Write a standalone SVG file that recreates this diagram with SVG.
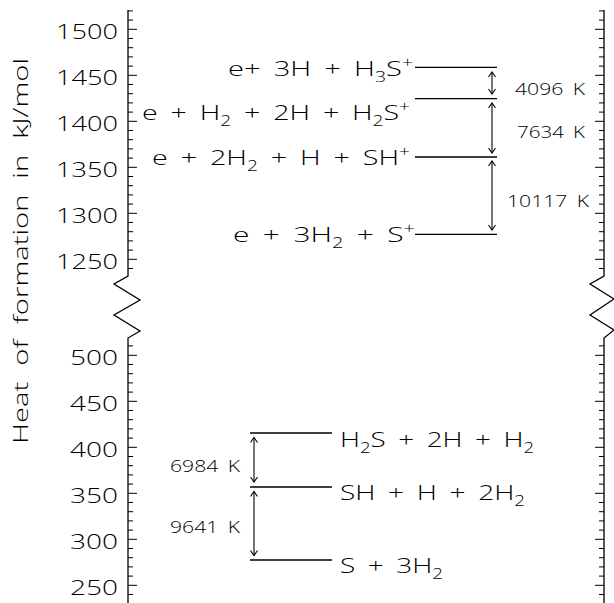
<svg xmlns="http://www.w3.org/2000/svg" width="614" height="603" viewBox="0 0 614 603">
<style>
text{font-family:"Open Sans","Liberation Sans",Arial,sans-serif;font-weight:300;fill:#000}
.tick{font-size:20px;text-anchor:end}
.lab{font-size:21px;word-spacing:4px}
.k{font-size:16.5px;text-anchor:middle;word-spacing:3px}
.ax{font-size:21px;text-anchor:middle;word-spacing:6px}
.sm{font-size:14px}
.ln{stroke:#000;stroke-width:1.3;fill:none}
.tk{stroke:#000;stroke-width:1;fill:none}
.arr{stroke:#000;stroke-width:1.1;fill:none;marker-start:url(#ah);marker-end:url(#ah)}
</style>
<defs>
<marker id="ah" markerUnits="userSpaceOnUse" markerWidth="12" markerHeight="12" viewBox="-6 -6 12 12" refX="0" refY="0" orient="auto-start-reverse">
<path d="M-5,-3.5 L0,0 L-5,3.5" stroke="#000" stroke-width="1.1" fill="none"/>
</marker>
</defs>
<g id="axes">
<path class="ln" d="M128,10 V276 L114,284 L140,300 L114,315 L140,331 L128,338 V603"/>
<path class="ln" d="M604,10 V276 L590,284 L614,299 L590,315 L614,330 L604,338 V603"/>
<path class="tk" d="M128,10.9h5M128,20.1h5M128,29.3h9M128,38.5h5M128,47.7h5M128,56.9h5M128,66.1h5M128,75.3h9M128,84.5h5M128,93.7h5M128,102.9h5M128,112.1h5M128,121.3h9M128,130.5h5M128,139.7h5M128,148.9h5M128,158.1h5M128,167.3h9M128,176.5h5M128,185.7h5M128,194.9h5M128,204.1h5M128,213.3h9M128,222.5h5M128,231.7h5M128,240.9h5M128,250.1h5M128,259.3h9M128,268.5h5"/>
<path class="tk" d="M128,345.9h5M128,355.3h9M128,364.5h5M128,373.7h5M128,382.9h5M128,392.1h5M128,401.3h9M128,410.5h5M128,419.7h5M128,428.9h5M128,438.1h5M128,447.3h9M128,456.5h5M128,465.7h5M128,474.9h5M128,484.1h5M128,493.3h9M128,502.5h5M128,511.7h5M128,520.9h5M128,530.1h5M128,539.3h9M128,548.5h5M128,557.7h5M128,566.9h5M128,576.1h5M128,585.3h9M128,594.5h5"/>
<path class="tk" d="M604,10.9h-5M604,20.1h-5M604,29.3h-9M604,38.5h-5M604,47.7h-5M604,56.9h-5M604,66.1h-5M604,75.3h-9M604,84.5h-5M604,93.7h-5M604,102.9h-5M604,112.1h-5M604,121.3h-9M604,130.5h-5M604,139.7h-5M604,148.9h-5M604,158.1h-5M604,167.3h-9M604,176.5h-5M604,185.7h-5M604,194.9h-5M604,204.1h-5M604,213.3h-9M604,222.5h-5M604,231.7h-5M604,240.9h-5M604,250.1h-5M604,259.3h-9M604,268.5h-5"/>
<path class="tk" d="M604,345.9h-5M604,355.3h-9M604,364.5h-5M604,373.7h-5M604,382.9h-5M604,392.1h-5M604,401.3h-9M604,410.5h-5M604,419.7h-5M604,428.9h-5M604,438.1h-5M604,447.3h-9M604,456.5h-5M604,465.7h-5M604,474.9h-5M604,484.1h-5M604,493.3h-9M604,502.5h-5M604,511.7h-5M604,520.9h-5M604,530.1h-5M604,539.3h-9M604,548.5h-5M604,557.7h-5M604,566.9h-5M604,576.1h-5M604,585.3h-9M604,594.5h-5"/>
<text class="tick" x="118" y="39.3" textLength="62" lengthAdjust="spacingAndGlyphs">1500</text>
<text class="tick" x="118" y="85.3" textLength="62" lengthAdjust="spacingAndGlyphs">1450</text>
<text class="tick" x="118" y="131.3" textLength="62" lengthAdjust="spacingAndGlyphs">1400</text>
<text class="tick" x="118" y="177.3" textLength="62" lengthAdjust="spacingAndGlyphs">1350</text>
<text class="tick" x="118" y="223.3" textLength="62" lengthAdjust="spacingAndGlyphs">1300</text>
<text class="tick" x="118" y="269.3" textLength="62" lengthAdjust="spacingAndGlyphs">1250</text>
<text class="tick" x="118" y="365.3" textLength="48" lengthAdjust="spacingAndGlyphs">500</text>
<text class="tick" x="118" y="411.3" textLength="48" lengthAdjust="spacingAndGlyphs">450</text>
<text class="tick" x="118" y="457.3" textLength="48" lengthAdjust="spacingAndGlyphs">400</text>
<text class="tick" x="118" y="503.3" textLength="48" lengthAdjust="spacingAndGlyphs">350</text>
<text class="tick" x="118" y="549.3" textLength="48" lengthAdjust="spacingAndGlyphs">300</text>
<text class="tick" x="118" y="595.3" textLength="48" lengthAdjust="spacingAndGlyphs">250</text>
<text class="ax" transform="rotate(-90)" x="-251" y="27.5" textLength="386" lengthAdjust="spacingAndGlyphs">Heat of formation in kJ/mol</text>
</g>
<g id="level-H3S-plus">
<line class="ln" x1="415" y1="67.3" x2="497" y2="67.3"/>
<text class="lab" x="228" y="76" textLength="185" lengthAdjust="spacingAndGlyphs">e+ 3H + H<tspan class="sm" dy="6">3</tspan><tspan dy="-6">S</tspan><tspan class="sm" dy="-8">+</tspan></text>
</g>
<g id="level-H2S-plus">
<line class="ln" x1="415" y1="98.6" x2="497" y2="98.6"/>
<text class="lab" x="142" y="120" textLength="268" lengthAdjust="spacingAndGlyphs">e + H<tspan class="sm" dy="6">2</tspan><tspan dy="-6"> + 2H + H</tspan><tspan class="sm" dy="6">2</tspan><tspan dy="-6">S</tspan><tspan class="sm" dy="-8">+</tspan></text>
</g>
<g id="level-SH-plus">
<line class="ln" x1="415" y1="157" x2="497" y2="157"/>
<text class="lab" x="152" y="165" textLength="258" lengthAdjust="spacingAndGlyphs">e + 2H<tspan class="sm" dy="6">2</tspan><tspan dy="-6"> + H + SH</tspan><tspan class="sm" dy="-8">+</tspan></text>
</g>
<g id="level-S-plus">
<line class="ln" x1="415" y1="234.3" x2="497" y2="234.3"/>
<text class="lab" x="233" y="241.7" textLength="182" lengthAdjust="spacingAndGlyphs">e + 3H<tspan class="sm" dy="6">2</tspan><tspan dy="-6"> + S</tspan><tspan class="sm" dy="-8">+</tspan></text>
</g>
<g id="level-H2S">
<line class="ln" x1="250" y1="433" x2="332" y2="433"/>
<text class="lab" x="340" y="446.7" textLength="194" lengthAdjust="spacingAndGlyphs">H<tspan class="sm" dy="6">2</tspan><tspan dy="-6">S + 2H + H</tspan><tspan class="sm" dy="6">2</tspan></text>
</g>
<g id="level-SH">
<line class="ln" x1="250" y1="487" x2="332" y2="487"/>
<text class="lab" x="340" y="500" textLength="185" lengthAdjust="spacingAndGlyphs">SH + H + 2H<tspan class="sm" dy="6">2</tspan></text>
</g>
<g id="level-S">
<line class="ln" x1="250" y1="560" x2="332" y2="560"/>
<text class="lab" x="340" y="573.3" textLength="103" lengthAdjust="spacingAndGlyphs">S + 3H<tspan class="sm" dy="6">2</tspan></text>
</g>
<g id="connectors">
<line class="arr" x1="492" y1="72" x2="492" y2="94"/>
<line class="arr" x1="492" y1="103" x2="492" y2="153"/>
<line class="arr" x1="492" y1="161" x2="492" y2="230"/>
<line class="arr" x1="254" y1="437.5" x2="254" y2="482"/>
<line class="arr" x1="254" y1="491.5" x2="254" y2="555.5"/>
<text class="k" x="550" y="95" textLength="70" lengthAdjust="spacingAndGlyphs">4096 K</text>
<text class="k" x="551" y="138.3" textLength="68" lengthAdjust="spacingAndGlyphs">7634 K</text>
<text class="k" x="548" y="206.7" textLength="82" lengthAdjust="spacingAndGlyphs">10117 K</text>
<text class="k" x="205" y="471.7" textLength="70" lengthAdjust="spacingAndGlyphs">6984 K</text>
<text class="k" x="205" y="533.3" textLength="70" lengthAdjust="spacingAndGlyphs">9641 K</text>
</g>
</svg>
